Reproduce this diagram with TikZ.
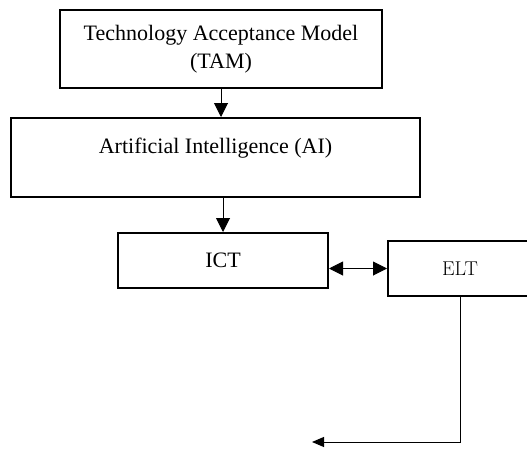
\documentclass[tikz,border=0pt]{standalone}
\usepackage{fontspec}
\newfontfamily\boxfont{Liberation Serif}
\usetikzlibrary{arrows.meta,positioning}
\tikzset{%
  >={Triangle[width=14pt,length=14pt]},
  % Specifications for style of nodes:
        base/.style = {rectangle, draw=black, line width=2pt, inner sep=0pt,
                       text centered, font=\boxfont\fontsize{22}{28}\selectfont},
      theory/.style = {base, minimum width=322pt, minimum height=78pt, align=center},
       field/.style = {base, minimum width=409pt, text height=35pt, text depth=44pt},
        tool/.style = {base, minimum width=210pt, minimum height=55pt},
    teaching/.style = {base, minimum width=144pt, minimum height=55pt,
                       font=\fontsize{20}{24}\selectfont},
        link/.style = {line width=1pt},
}

\begin{document}
\begin{tikzpicture}[x=1pt, y=-1pt]
\useasboundingbox (0,0) rectangle (527,450);
\clip (0,0) rectangle (527,450);

\node (TAM) [theory]   at (221,49)     {Technology Acceptance Model\\(TAM)};

\node (AI)  [field]    at (215.5,157.5) {Artificial Intelligence (AI)};

\node (ICT) [tool]     at (223,260.5)  {ICT};

\node (ELT) [teaching] at (460,268.5)  {ELT};

\coordinate (End) at (312,442);

\draw[link,->]  (TAM.south) -- (TAM.south |- AI.north);
\draw[link,->]  (ICT.north |- AI.south) -- (ICT.north);
\draw[link,<->] (ICT.east |- ELT.west) -- (ELT.west);
\draw[link,-{Triangle[width=10pt,length=12pt]}] (ELT.south) |- (End);
\end{tikzpicture}
\end{document}
